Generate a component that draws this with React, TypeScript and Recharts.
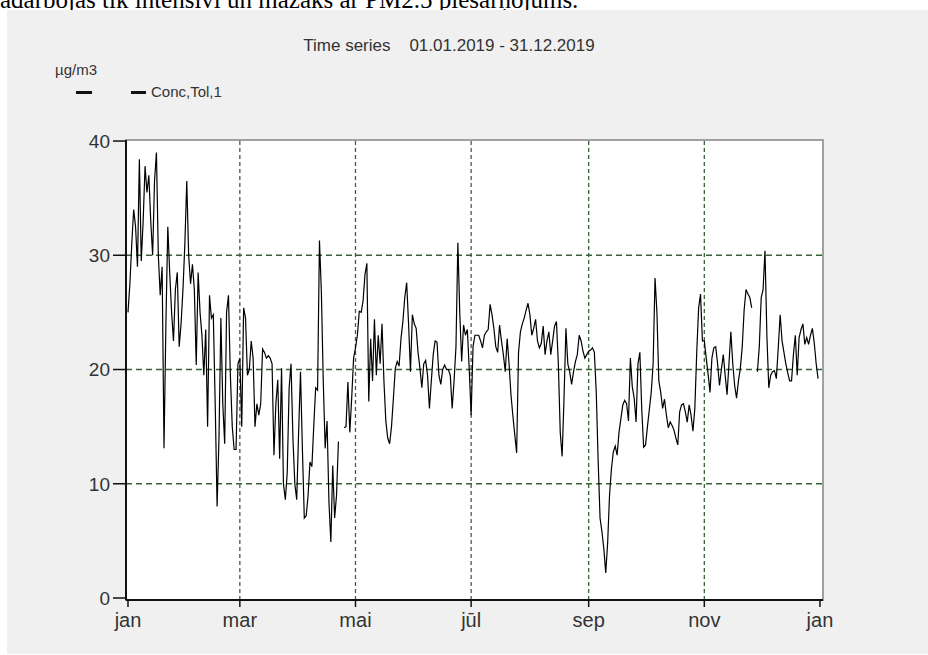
import React from 'react';
import { LineChart, Line, XAxis, YAxis, ReferenceLine, ReferenceArea } from 'recharts';

// Daily concentration (µg/m3), 2019
const concQ1 = [
  25, 27.5, 31, 34, 32.5, 29, 38.4, 29.5, 33, 37.8,
  35.5, 37, 33, 30, 36.5, 39, 30, 26.5, 29, 13.1,
  24, 32.5, 28.5, 25, 22.5, 27, 28.5, 22, 24, 27,
  31, 36.5, 30, 27.5, 29.2, 27, 20.4, 28.5, 25, 23,
  19.5, 23.5, 15, 26.5, 24.5, 24.8, 17, 8, 14, 24.5,
  17, 13.5, 25, 26.5, 19.5, 15, 13, 13, 20.5, 21,
  15, 25.4, 24.5, 19.5, 20, 22.5, 21, 15, 17, 16,
  17, 21.8, 21.5, 21, 21.2, 21, 20.5, 12.5, 17, 19.1,
  12.2, 20.1, 10, 8.6, 11, 18.4, 20.5, 14, 10, 8.6,
];
const concQ2 = [
  14.5, 19.8, 13, 7, 7.2, 9, 11.9, 11.5, 15.1, 18.4,
  18.2, 31.3, 26.8, 19, 13.1, 15.5, 8.4, 4.9, 11.6, 7,
  9, 13.7, null, null, 14.9, 15, 18.9, 14.5, 17.5, 21,
  21.9, 23, 25.1, 25, 26, 28.3, 29.3, 17.2, 22.7, 19,
  24.4, 19.5, 23, 20.5, 24, 19, 15.5, 14, 13.5, 15,
  17.5, 20.1, 20.7, 20.3, 22.7, 24.2, 26.3, 27.6, 24, 19.8,
  24.8, 24, 23.6, 21.5, 20.1, 18.4, 20.5, 20.8, 19.5, 16.6,
  19, 21.3, 22.5, 22.4, 19.5, 18.7, 20, 20.4, 20, 20,
  19.5, 16.6, 19, 22, 31.1, 25, 20.7, 23.9, 23, 23.5, 20,
];
const concQ3 = [
  16, 22, 23, 23, 23, 22.5, 21.9, 23, 23.3,
  23.5, 25.7, 24.8, 23.6, 22, 21.5, 23.9, 22.5, 21.3, 19.8,
  22.7, 20.5, 17.8, 16, 14.3, 12.7, 21.5, 23.3, 24, 24.5,
  25.2, 25.8, 24.8, 23, 23.6, 24.4, 22.5, 21.9, 22.3, 23.8,
  21.3, 22.5, 23.3, 21.3, 22.5, 23.8, 24.2, 20.5, 14.5, 12.4,
  17.5, 23.6, 20.5, 19.8, 18.7, 19.8, 20.7, 21.3, 23, 22.5,
  21.6, 21, 21.3, 21.6, 21.7, 21.9, 21.5, 18, 12, 7,
  5.8, 4.3, 2.2, 4.8, 9, 11.3, 12.8, 13.3, 12.5, 14.5,
  15.7, 16.9, 17.3, 17, 15.5, 21, 18.5, 17.5, 15.4, 20.5,
  21.5, 16.5, 13.2,
];
const concQ4 = [
  13.4, 15, 16.5, 18, 20.5, 28, 25,
  19, 18, 16.6, 17.4, 16, 14.9, 15.4, 15.1, 14.7, 14,
  13.4, 16.3, 16.9, 17, 16.3, 15.4, 16.9, 16, 14.6, 16.6,
  21.5, 25.4, 26.6, 22.5, 22.5, 21, 19.6, 18, 21, 21.9,
  22, 20.5, 18.6, 20, 21.3, 19.5, 17.8, 20.5, 23.3, 20.5,
  18.6, 17.5, 19, 20.1, 22, 25.2, 27, 26.6, 26.3, 25.4,
  null, null, 19.8, 22, 26.3, 27, 30.4, 23, 18.4, 19.5,
  19.8, 19.9, 19.2, 21.9, 24.8, 22.5, 21.5, 20.5, 19.7, 19,
  19, 21.3, 23, 19.5, 22.8, 23.5, 24, 22.2, 22.8, 22.2,
  23, 23.6, 22.3, 20.5, 19.2,
];

const monthTicks = [0, 59, 120, 181, 243, 304, 365];
const monthLabels = ['jan', 'mar', 'mai', 'jūl', 'sep', 'nov', 'jan'];
const gridMonths = [59, 120, 181, 243, 304];
const yTicks = [0, 10, 20, 30, 40];
const gridValues = [10, 20, 30];

const conc = [...concQ1, ...concQ2, ...concQ3, ...concQ4];
const data = conc.map((v, i) => ({ day: i, conc: v }));

const X_DOMAIN: [number, number] = [-1.05, 366.6];
const Y_DOMAIN: [number, number] = [-0.175, 40.09];
const FONT = '"Liberation Sans", Arial, sans-serif';
const GRID = '#3b613b';

export default function App() {
  return (
    <div style={{ position: 'absolute', left: 0, top: 0, width: 928, height: 655, overflow: 'hidden', background: '#fff' }}>
      <div style={{ position: 'absolute', left: 0, top: -13, fontFamily: '"Liberation Serif", "Times New Roman", serif', fontSize: 25, lineHeight: '25px', whiteSpace: 'nowrap', color: '#000' }}>
        adarbojas tik intensīvi un mazāks ar PM2.5 piesārņojums.
      </div>
      <div style={{ position: 'absolute', left: 7, top: 10, width: 921, height: 644, background: '#f0f0f0' }} />
      <div style={{ position: 'absolute', left: 0, top: 36, width: 898, textAlign: 'center', fontFamily: FONT, fontSize: 17, color: '#333', whiteSpace: 'pre', lineHeight: '20px' }}>
        {'Time series    01.01.2019 - 31.12.2019'}
      </div>
      <div style={{ position: 'absolute', left: 55, top: 61, fontFamily: FONT, fontSize: 15, color: '#333', lineHeight: '18px' }}>µg/m3</div>
      <div style={{ position: 'absolute', left: 76, top: 91, width: 16, height: 3, background: '#111' }} />
      <div style={{ position: 'absolute', left: 131, top: 91, width: 15, height: 3, background: '#111' }} />
      <div style={{ position: 'absolute', left: 151, top: 83, fontFamily: FONT, fontSize: 15, color: '#333', lineHeight: '18px' }}>Conc,Tol,1</div>
      <LineChart
        width={928}
        height={655}
        data={data}
        margin={{ top: 140, right: 105, bottom: 25, left: 86 }}
        style={{ position: 'absolute', left: 0, top: 0 }}
      >
        <ReferenceArea
          x1={X_DOMAIN[0]}
          x2={X_DOMAIN[1]}
          y1={Y_DOMAIN[0]}
          y2={Y_DOMAIN[1]}
          fill="#ffffff"
          fillOpacity={1}
          stroke="#a0a0a0"
          strokeWidth={2}
          ifOverflow="visible"
        />
        {gridValues.map((v) => (
          <ReferenceLine key={'h' + v} y={v} stroke={GRID} strokeDasharray="6 4" strokeWidth={1.3} />
        ))}
        {gridMonths.map((d) => (
          <ReferenceLine key={'v' + d} x={d} stroke={GRID} strokeDasharray="4 3" strokeWidth={1.3} />
        ))}
        <Line
          type="linear"
          dataKey="conc"
          stroke="#000"
          strokeWidth={1.2}
          dot={false}
          activeDot={false}
          connectNulls={false}
          isAnimationActive={false}
        />
        <XAxis
          dataKey="day"
          type="number"
          domain={X_DOMAIN}
          allowDataOverflow
          ticks={monthTicks}
          interval={0}
          height={30}
          tickSize={7}
          tickMargin={6}
          tickFormatter={(v: number) => monthLabels[monthTicks.indexOf(v)] ?? ''}
          axisLine={{ stroke: '#111', strokeWidth: 2 }}
          tickLine={{ stroke: '#111', strokeWidth: 1.5 }}
          tick={{ fontSize: 20, fill: '#333', fontFamily: FONT }}
        />
        <YAxis
          type="number"
          domain={Y_DOMAIN}
          allowDataOverflow
          ticks={yTicks}
          interval={0}
          width={40}
          tickSize={13}
          tickMargin={3}
          axisLine={{ stroke: '#111', strokeWidth: 2 }}
          tickLine={{ stroke: '#111', strokeWidth: 1.5 }}
          tick={{ fontSize: 19, fill: '#333', fontFamily: FONT }}
        />
      </LineChart>
    </div>
  );
}
